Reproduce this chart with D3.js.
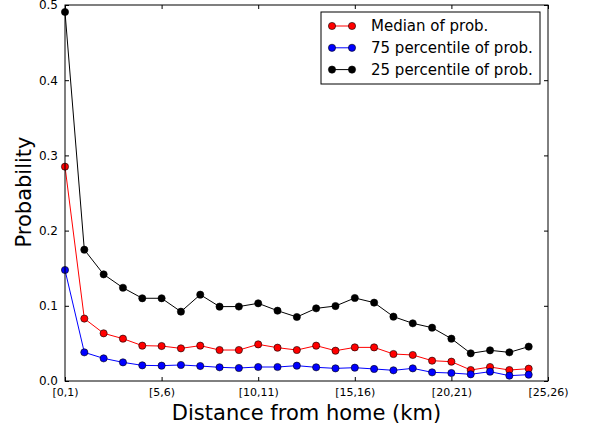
<!DOCTYPE html>
<html>
<head>
<meta charset="utf-8">
<script src="https://cdn.jsdelivr.net/npm/d3@7"></script>
<style>
  body { margin: 0; background: #fff; }
  text { font-family: "DejaVu Sans", sans-serif; }
</style>
</head>
<body>
<script>
// data, one value per 1 km bin
var bins = d3.range(25);
var tickBins = [0, 5, 10, 15, 20, 25];
var tickLabels = ["[0,1)", "[5,6)", "[10,11)", "[15,16)", "[20,21)", "[25,26)"];
var yTicks = [0, 0.1, 0.2, 0.3, 0.4, 0.5];

var median = [0.285, 0.083, 0.0634, 0.0563, 0.047, 0.0465, 0.0434, 0.047, 0.0412, 0.0412,
  0.0487, 0.0443, 0.0412, 0.047, 0.0403, 0.0447, 0.0447, 0.0359, 0.0346, 0.027,
  0.0257, 0.0146, 0.0186, 0.0146, 0.0164];
var p75 = [0.1476, 0.0381, 0.0301, 0.0248, 0.0208, 0.0204, 0.0213, 0.0199, 0.0182, 0.0173,
  0.0186, 0.0186, 0.0204, 0.0182, 0.0168, 0.0177, 0.016, 0.0142, 0.0168, 0.0115,
  0.0106, 0.0089, 0.0124, 0.0071, 0.0084];
var p25 = [0.4907, 0.1746, 0.1418, 0.124, 0.110, 0.110, 0.0922, 0.1148, 0.0989, 0.099,
  0.1033, 0.0935, 0.0851, 0.0966, 0.0997, 0.1104, 0.1042, 0.0856, 0.0767, 0.0709,
  0.0563, 0.0368, 0.0408, 0.0381, 0.0457];

var series = [
  {name: "Median of prob.", values: median, color: "#ff0000"},
  {name: "75 percentile of prob.", values: p75, color: "#0000ff"},
  {name: "25 percentile of prob.", values: p25, color: "#000000"}
];

var width = 590, height = 428;
var margin = {top: 5, right: 42, bottom: 47, left: 65};
var w = width - margin.left - margin.right,
    h = height - margin.top - margin.bottom;

var svg = d3.select("body").append("svg")
  .attr("width", width)
  .attr("height", height);

var g = svg.append("g").attr("transform", "translate(" + margin.left + "," + margin.top + ")");

var x = d3.scaleLinear().domain([0, 25]).range([0, w]);
var y = d3.scaleLinear().domain([0, 0.5]).range([h, 0]);

// lines first, markers on top
var line = d3.line()
  .x(function(d, i) { return x(bins[i]); })
  .y(function(d) { return y(d); });

series.forEach(function(s) {
  g.append("path")
    .datum(s.values)
    .attr("fill", "none")
    .attr("stroke", s.color)
    .attr("stroke-width", 1)
    .attr("d", line);
  g.selectAll(null)
    .data(s.values)
    .enter().append("circle")
    .attr("cx", function(d, i) { return x(bins[i]); })
    .attr("cy", function(d) { return y(d); })
    .attr("r", 3.6)
    .attr("fill", s.color)
    .attr("stroke", "#000")
    .attr("stroke-width", 0.6);
});

// frame
g.append("rect")
  .attr("width", w).attr("height", h)
  .attr("fill", "none").attr("stroke", "#000").attr("stroke-width", 1);

// axes with inward ticks
var xAxis = d3.axisBottom(x).tickValues(tickBins)
  .tickFormat(function(d, i) { return tickLabels[i]; })
  .tickSizeInner(-4).tickSizeOuter(0).tickPadding(7);
var gx = g.append("g").attr("transform", "translate(0," + h + ")").call(xAxis);
gx.select(".domain").remove();
gx.selectAll("text").style("font-size", "11px").attr("fill", "#000");

g.append("g").call(d3.axisTop(x).tickValues(tickBins).tickFormat("").tickSizeInner(-4).tickSizeOuter(0))
  .select(".domain").remove();

var yAxis = d3.axisLeft(y).tickValues(yTicks).tickFormat(d3.format(".1f"))
  .tickSizeInner(-4).tickSizeOuter(0).tickPadding(7);
var gy = g.append("g").call(yAxis);
gy.select(".domain").remove();
gy.selectAll("text").style("font-size", "12px").attr("fill", "#000");

g.append("g").attr("transform", "translate(" + w + ",0)")
  .call(d3.axisRight(y).tickValues(yTicks).tickFormat("").tickSizeInner(-4).tickSizeOuter(0))
  .select(".domain").remove();

// axis titles
svg.append("text")
  .attr("x", margin.left + w / 2).attr("y", 420)
  .attr("text-anchor", "middle")
  .style("font-size", "21px")
  .text("Distance from home (km)");

svg.append("text")
  .attr("transform", "translate(31," + (margin.top + h / 2 - 1) + ") rotate(-90)")
  .attr("text-anchor", "middle")
  .style("font-size", "21px")
  .text("Probability");

// legend
var legend = svg.append("g").attr("transform", "translate(321,12)");
legend.append("rect")
  .attr("width", 219).attr("height", 72)
  .attr("fill", "#fff").attr("stroke", "#000").attr("stroke-width", 1);

var item = legend.selectAll(".item")
  .data(series)
  .enter().append("g")
  .attr("class", "item")
  .attr("transform", function(d, i) { return "translate(0," + (14 + i * 21.8) + ")"; });

item.append("line")
  .attr("x1", 11).attr("x2", 31)
  .attr("stroke", function(d) { return d.color; });
item.selectAll("circle")
  .data(function(d) { return [d, d]; })
  .enter().append("circle")
  .attr("cx", function(d, i) { return i ? 31 : 11; })
  .attr("r", 3.6)
  .attr("fill", function(d) { return d.color; })
  .attr("stroke", "#000").attr("stroke-width", 0.6);
item.append("text")
  .attr("x", 50).attr("dy", "0.35em")
  .style("font-size", "15px")
  .text(function(d) { return d.name; });
</script>
</body>
</html>
